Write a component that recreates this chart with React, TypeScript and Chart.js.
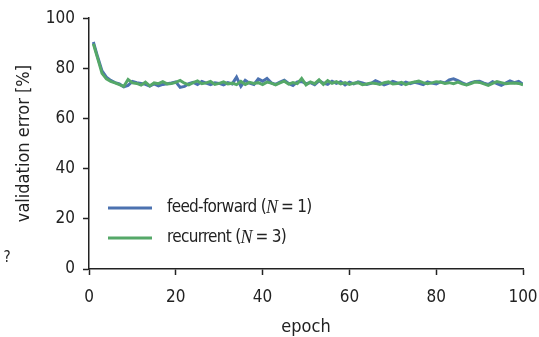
import React, { useEffect, useRef } from "react";
import { Chart, registerables } from "chart.js";

Chart.register(...registerables);

const epochs: number[] = Array.from({ length: 100 }, (_, i) => i + 1);

const feedForward: number[] = [
  90.5, 84.5, 79.0, 76.5, 75.2, 74.3, 73.8, 72.6, 73.2, 74.8,
  74.3, 74.0, 73.6, 72.9, 73.8, 73.0, 73.6, 73.9, 74.2, 74.6,
  72.4, 72.8, 73.9, 74.4, 73.6, 74.8, 74.1, 73.5, 74.2, 74.0,
  73.4, 74.3, 73.8, 76.5, 72.8, 75.2, 74.1, 73.6, 75.8, 74.9,
  76.0, 74.2, 73.6, 74.5, 75.3, 74.0, 73.2, 74.6, 74.8, 73.9,
  74.3, 73.5, 75.0, 74.1, 73.6, 74.9, 74.0, 74.7, 73.4, 74.5,
  73.8, 74.6, 74.2, 73.6, 74.0, 75.1, 74.3, 73.4, 74.0, 74.8,
  74.2, 73.6, 74.5, 73.9, 74.4, 74.0, 73.5, 74.6, 74.1, 73.8,
  74.6, 74.2, 75.4, 75.8, 75.1, 74.2, 73.5, 74.3, 74.8, 74.9,
  74.1, 73.6, 74.7, 73.9, 73.2, 74.1, 75.0, 74.3, 74.8, 73.6,
];

const recurrent: number[] = [
  89.8, 84.0, 78.0, 75.8, 74.8, 74.2, 73.5, 72.8, 75.6, 74.2,
  74.0, 73.3, 74.5, 73.0, 74.2, 73.9, 74.7, 73.8, 74.0, 74.4,
  75.2, 74.1, 73.4, 74.3, 75.0, 73.9, 74.2, 74.8, 73.6, 74.0,
  74.6, 73.8, 74.1, 73.5, 74.8, 73.6, 74.4, 74.0, 74.3, 73.5,
  74.5, 74.1, 73.4, 74.2, 74.9, 73.7, 74.3, 73.9, 76.0, 73.4,
  74.6, 73.9, 75.4, 73.6, 75.1, 74.0, 74.7, 73.8, 74.3, 73.6,
  74.1, 74.3, 73.5, 73.8, 74.2, 74.0, 73.6, 74.3, 74.6, 73.8,
  74.0, 74.4, 73.5, 74.2, 74.6, 74.9, 74.3, 73.9, 74.2, 74.7,
  74.5, 74.0, 74.3, 73.9, 74.5, 73.8, 73.4, 73.9, 74.6, 74.4,
  73.8, 73.2, 74.0, 74.7, 74.3, 73.9, 74.1, 74.2, 74.0, 73.4,
];

const seriesLabels = ["feed-forward", "recurrent"];
const seriesN = ["1", "3"];
const blue = "#4C72B0";
const green = "#55A868";
const FONT = "'Liberation Sans Narrow', 'DejaVu Sans Condensed', 'Noto Sans', sans-serif";
const TEXT = "#222";

const legendPlugin = {
  id: "customLegend",
  afterDraw(chart: any) {
    const ctx = chart.ctx;
    ctx.save();
    const items = [
      { color: blue, label: seriesLabels[0], n: seriesN[0], y: 208 },
      { color: green, label: seriesLabels[1], n: seriesN[1], y: 238 },
    ];
    for (const it of items) {
      ctx.strokeStyle = it.color;
      ctx.lineWidth = 3;
      ctx.beginPath();
      ctx.moveTo(108, it.y);
      ctx.lineTo(152, it.y);
      ctx.stroke();
      ctx.fillStyle = TEXT;
      ctx.textBaseline = "middle";
      ctx.textAlign = "left";
      try { ctx.letterSpacing = "-0.7px"; } catch (e) {}
      let x = 167;
      ctx.font = `17px ${FONT}`;
      const a = it.label + " (";
      ctx.fillText(a, x, it.y);
      x += ctx.measureText(a).width;
      try { ctx.letterSpacing = "0px"; } catch (e) {}
      ctx.font = `italic 18px 'Liberation Serif', 'DejaVu Serif', serif`;
      ctx.fillText("N", x, it.y);
      x += ctx.measureText("N").width + 3;
      ctx.font = `17px ${FONT}`;
      try { ctx.letterSpacing = "-0.7px"; } catch (e) {}
      const b = "= " + it.n + ")";
      ctx.fillText(b, x, it.y);
      try { ctx.letterSpacing = "0px"; } catch (e) {}
    }
    ctx.font = `15px ${FONT}`;
    ctx.fillStyle = TEXT;
    ctx.textAlign = "center";
    ctx.fillText("?", 7, 258);
    ctx.restore();
  },
};

export default function App() {
  const ref = useRef<HTMLCanvasElement | null>(null);
  useEffect(() => {
    if (!ref.current) return;
    const chart = new Chart(ref.current, {
      type: "line",
      data: {
        labels: epochs,
        datasets: [
          {
            label: seriesLabels[0],
            data: epochs.map((e, i) => ({ x: e, y: feedForward[i] })),
            borderColor: blue,
            borderWidth: 3,
            pointRadius: 0,
            fill: false,
            tension: 0,
            order: 1,
          },
          {
            label: seriesLabels[1],
            data: epochs.map((e, i) => ({ x: e, y: recurrent[i] })),
            borderColor: green,
            borderWidth: 3,
            pointRadius: 0,
            fill: false,
            tension: 0,
            order: 0,
          },
        ],
      },
      options: {
        animation: false,
        responsive: false,
        maintainAspectRatio: false,
        devicePixelRatio: 1,
        layout: { padding: { top: 18, right: 16, bottom: 0, left: 0 } },
        plugins: { legend: { display: false }, tooltip: { enabled: false } },
        scales: {
          x: {
            type: "linear",
            min: 0,
            max: 100,
            afterFit: (s: any) => { s.height = 68; s.paddingLeft = 0; s.paddingRight = 0; },
            ticks: { stepSize: 20, color: TEXT, font: { family: FONT, size: 17 }, padding: 12, maxRotation: 0 },
            grid: { drawOnChartArea: false, tickLength: 6, tickColor: TEXT, tickWidth: 1.5 },
            border: { display: true, color: TEXT, width: 1.5 },
            title: { display: true, text: "epoch", color: TEXT, font: { family: FONT, size: 18, lineHeight: 1 }, padding: { top: 0, bottom: 1 } },
          },
          y: {
            min: 0,
            max: 100,
            afterFit: (s: any) => { s.width = 89; },
            ticks: { stepSize: 20, color: TEXT, font: { family: FONT, size: 17 }, padding: 8 },
            grid: { drawOnChartArea: false, tickLength: 6, tickColor: TEXT, tickWidth: 1.5 },
            border: { display: true, color: TEXT, width: 1.5 },
            title: { display: true, text: "validation error [%]", color: TEXT, font: { family: FONT, size: 18, lineHeight: 1 }, padding: { top: 15, bottom: 0 } },
          },
        },
      },
      plugins: [legendPlugin],
    } as any);
    return () => chart.destroy();
  }, []);
  return (
    <div style={{ position: "absolute", left: 0, top: 0, width: 539, height: 337, background: "#fff" }}>
      <canvas ref={ref} width={539} height={337} style={{ width: 539, height: 337, display: "block" }} />
    </div>
  );
}
